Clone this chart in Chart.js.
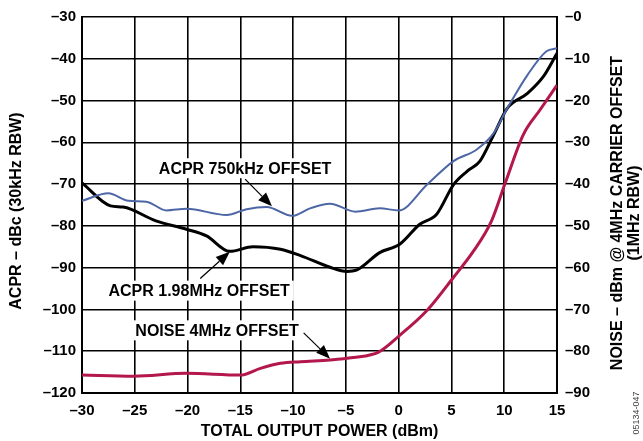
<!DOCTYPE html>
<html>
<head>
<meta charset="utf-8">
<title>ACPR and Noise vs. Total Output Power</title>
<script src="https://cdn.jsdelivr.net/npm/chart.js@4/dist/chart.umd.min.js"></script>
<style>
  html, body { margin: 0; padding: 0; background: #fff; }
  #wrap { width: 643px; height: 441px; }
</style>
</head>
<body>
<div id="wrap"><canvas id="chart" width="643" height="441"></canvas></div>
<script>
// Total output power (dBm) sample points and measured curves
const acpr750Power = [-30, -27.5, -25.6, -23.9, -22, -20.1, -16.3, -14.4, -12.5, -10.1, -8.4, -6.5, -4.1, -1.8, 0, 2.7, 5.2, 7.4, 9.0, 10.3, 12.2, 14.0, 15];
const acpr750 = [-74, -72.2, -74, -74.2, -76.3, -75.9, -77.4, -76, -75.5, -77.6, -75.8, -74.7, -76.6, -75.8, -76.3, -70.1, -64.5, -61.7, -57.8, -51.8, -43.9, -38.2, -37.5];

const acpr198Power = [-30, -27.3, -26.1, -23.0, -20.1, -18.2, -16.0, -13.8, -11.2, -9.3, -6.5, -4.9, -4.0, -1.8, 0.1, 2.0, 3.6, 5.2, 6.5, 7.7, 9.0, 10.3, 12.2, 13.7, 15];
const acpr198 = [-69.7, -75.2, -75.5, -78.8, -80.8, -82.4, -86.1, -85.0, -85.6, -87.1, -89.9, -90.9, -90.6, -86.4, -84.4, -79.6, -77.2, -70.1, -66.9, -64.5, -58.2, -51.8, -48.3, -44.3, -38.7];

// noise is read on the right-hand axis (dBm)
const noisePower = [-30, -25.1, -20.1, -15, -13.1, -11.2, -9.3, -6.5, -4.3, -1.9, 0.1, 2.7, 5.2, 7.1, 8.8, 10.1, 11.8, 13.4, 15];
const noise4M = [-85.7, -86.0, -85.3, -85.7, -84.1, -82.9, -82.5, -82.1, -81.5, -80.2, -76.2, -70.2, -62.3, -56.0, -48.8, -39.7, -28.2, -22.2, -16.3];

const powerTicks = [-30, -25, -20, -15, -10, -5, 0, 5, 10, 15];
const acprTicks = [-120, -110, -100, -90, -80, -70, -60, -50, -40, -30];
const noiseTicks = [-90, -80, -70, -60, -50, -40, -30, -20, -10, 0];

const FONT = '"Liberation Sans", Arial, sans-serif';

// callouts: text centre and arrow (from -> to), in data units of the ACPR axis
const callouts = [
  { text: 'ACPR 750kHz OFFSET', at: [-14.55, -66.2], from: [-14.55, -68.8], to: [-12.0, -75.3] },
  { text: 'ACPR 1.98MHz OFFSET', at: [-18.9, -95.5], from: [-18.8, -92.6], to: [-16.0, -86.2] },
  { text: 'NOISE 4MHz OFFSET', at: [-17.2, -105.0], from: [-9.0, -105.6], to: [-6.5, -111.8] }
];

const pairs = (xs, ys) => xs.map((x, i) => ({ x: x, y: ys[i] }));
const dash = v => (v < 0 ? '\u2013' + Math.abs(v) : (v === 0 ? '\u20130' : String(v)));
const dashX = v => (v < 0 ? '\u2013' + Math.abs(v) : String(v));

function arrow(ctx, x1, y1, x2, y2) {
  const ang = Math.atan2(y2 - y1, x2 - x1);
  const len = 14, half = 5.5;
  const bx = x2 - len * Math.cos(ang), by = y2 - len * Math.sin(ang);
  ctx.beginPath();
  ctx.moveTo(x1, y1);
  ctx.lineTo(bx, by);
  ctx.stroke();
  ctx.beginPath();
  ctx.moveTo(x2, y2);
  ctx.lineTo(bx + half * Math.sin(ang), by - half * Math.cos(ang));
  ctx.lineTo(bx - half * Math.sin(ang), by + half * Math.cos(ang));
  ctx.closePath();
  ctx.fill();
}

const decorations = {
  id: 'decorations',
  afterDatasetsDraw(chart) {
    const { ctx, scales } = chart;
    const px = v => scales.x.getPixelForValue(v);
    const py = v => scales.y.getPixelForValue(v);
    ctx.save();
    ctx.font = 'bold 16px ' + FONT;
    ctx.textAlign = 'center';
    ctx.textBaseline = 'middle';
    callouts.forEach(c => {
      const cx = px(c.at[0]), cy = py(c.at[1]);
      const w = ctx.measureText(c.text).width;
      ctx.fillStyle = '#fff';
      ctx.fillRect(cx - w / 2 - 4, cy - 10, w + 8, 20);
      ctx.fillStyle = '#000';
      ctx.fillText(c.text, cx, cy + 1);
      ctx.strokeStyle = '#000';
      ctx.lineWidth = 1.2;
      arrow(ctx, px(c.from[0]), py(c.from[1]), px(c.to[0]), py(c.to[1]));
    });
    ctx.restore();
  },
  afterDraw(chart) {
    const { ctx, chartArea } = chart;
    ctx.save();
    ctx.fillStyle = '#000';
    ctx.textAlign = 'center';
    ctx.textBaseline = 'middle';
    ctx.font = 'bold 16px ' + FONT;
    // bottom title
    ctx.fillText('TOTAL OUTPUT POWER (dBm)', (chartArea.left + chartArea.right) / 2, 432);
    // left title
    ctx.save();
    ctx.translate(17, 211);
    ctx.rotate(-Math.PI / 2);
    ctx.fillText('ACPR \u2013 dBc (30kHz RBW)', 0, 0);
    ctx.restore();
    // right title, two lines
    ctx.save();
    ctx.translate(618, 213);
    ctx.rotate(-Math.PI / 2);
    ctx.fillText('NOISE \u2013 dBm @ 4MHz CARRIER OFFSET', 0, 0);
    ctx.fillText('(1MHz RBW)', 0, 17);
    ctx.restore();
    // figure number
    ctx.save();
    ctx.translate(637, 413);
    ctx.rotate(-Math.PI / 2);
    ctx.font = '9px ' + FONT;
    ctx.fillStyle = '#444';
    ctx.fillText('05134-047', 0, 0);
    ctx.restore();
    ctx.restore();
  }
};

new Chart(document.getElementById('chart'), {
  type: 'line',
  data: {
    datasets: [
      {
        label: 'ACPR 750kHz OFFSET',
        data: pairs(acpr750Power, acpr750),
        borderColor: '#4d67a6',
        borderWidth: 2,
        yAxisID: 'y'
      },
      {
        label: 'ACPR 1.98MHz OFFSET',
        data: pairs(acpr198Power, acpr198),
        borderColor: '#000',
        borderWidth: 3,
        yAxisID: 'y'
      },
      {
        label: 'NOISE 4MHz OFFSET',
        data: pairs(noisePower, noise4M),
        borderColor: '#b3174d',
        borderWidth: 3,
        yAxisID: 'y2'
      }
    ]
  },
  options: {
    responsive: false,
    animation: false,
    events: [],
    layout: { padding: { top: 15, left: 0, right: 0, bottom: 0 } },
    elements: {
      point: { radius: 0 },
      line: { cubicInterpolationMode: 'monotone', fill: false }
    },
    plugins: { legend: { display: false }, tooltip: { enabled: false } },
    scales: {
      x: {
        type: 'linear',
        min: -30, max: 15,
        afterBuildTicks: s => { s.ticks = powerTicks.map(v => ({ value: v })); },
        afterFit: s => { s.height = 48; },
        grid: { color: '#000', lineWidth: 1.6, drawTicks: false },
        border: { color: '#000', width: 2 },
        ticks: {
          padding: 9,
          color: '#000',
          font: { family: FONT, size: 15, weight: 'bold' },
          callback: v => dashX(v)
        }
      },
      y: {
        type: 'linear',
        position: 'left',
        min: -120, max: -30,
        afterBuildTicks: s => { s.ticks = acprTicks.map(v => ({ value: v })); },
        afterFit: s => { s.width = 82; },
        grid: { color: '#000', lineWidth: 1.6, drawTicks: false },
        border: { color: '#000', width: 2 },
        ticks: {
          padding: 6,
          color: '#000',
          font: { family: FONT, size: 15, weight: 'bold' },
          callback: v => dash(v)
        }
      },
      y2: {
        type: 'linear',
        position: 'right',
        min: -90, max: 0,
        afterBuildTicks: s => { s.ticks = noiseTicks.map(v => ({ value: v })); },
        afterFit: s => { s.width = 86; },
        grid: { display: false, drawTicks: false },
        border: { color: '#000', width: 2 },
        ticks: {
          padding: 8,
          color: '#000',
          font: { family: FONT, size: 15, weight: 'bold' },
          callback: v => dash(v)
        }
      }
    }
  },
  plugins: [decorations]
});
</script>
</body>
</html>
